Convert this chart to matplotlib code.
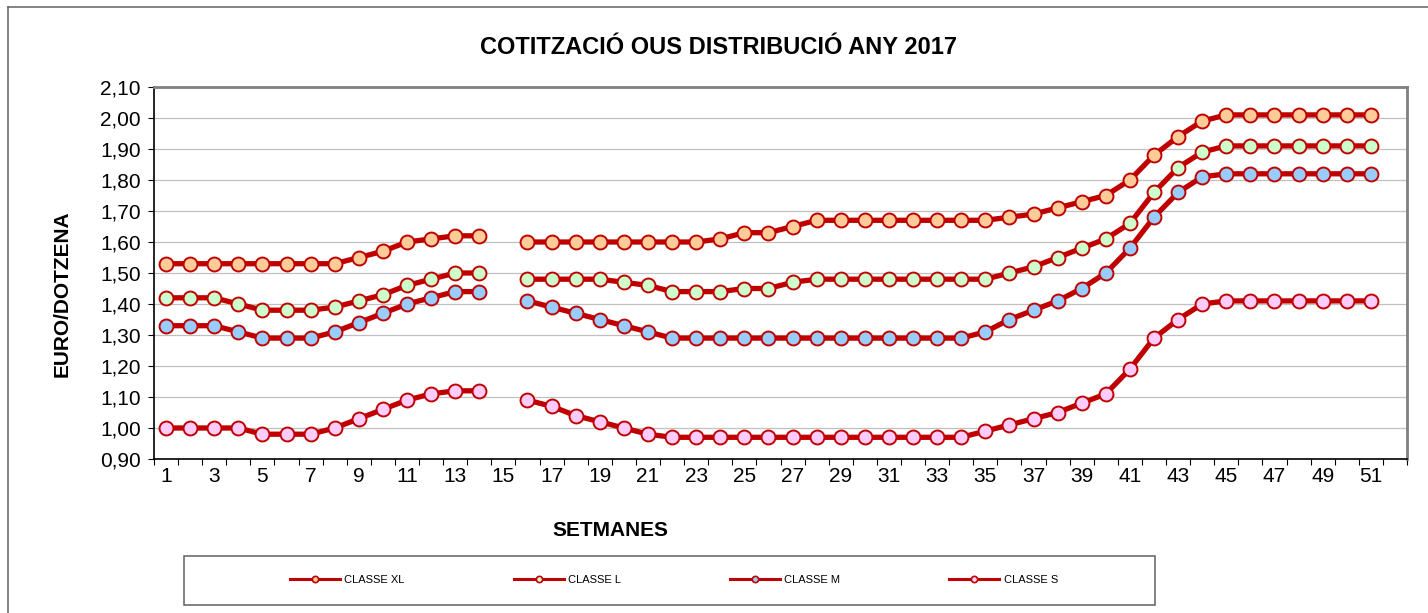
import numpy as np
import matplotlib
matplotlib.use("Agg")
import matplotlib.pyplot as plt
from matplotlib.lines import Line2D
from matplotlib.patches import Rectangle

plt.rcParams['font.family'] = ['Liberation Sans', 'DejaVu Sans']

# Weekly egg prices (euro/dozen), week 15 has no quotation
weeks = np.arange(1, 52)
nan = np.nan
classe_xl = [1.53, 1.53, 1.53, 1.53, 1.53, 1.53, 1.53, 1.53, 1.55, 1.57,
             1.60, 1.61, 1.62, 1.62, nan, 1.60, 1.60, 1.60, 1.60, 1.60,
             1.60, 1.60, 1.60, 1.61, 1.63, 1.63, 1.65, 1.67, 1.67, 1.67,
             1.67, 1.67, 1.67, 1.67, 1.67, 1.68, 1.69, 1.71, 1.73, 1.75,
             1.80, 1.88, 1.94, 1.99, 2.01, 2.01, 2.01, 2.01, 2.01, 2.01, 2.01]
classe_l = [1.42, 1.42, 1.42, 1.40, 1.38, 1.38, 1.38, 1.39, 1.41, 1.43,
            1.46, 1.48, 1.50, 1.50, nan, 1.48, 1.48, 1.48, 1.48, 1.47,
            1.46, 1.44, 1.44, 1.44, 1.45, 1.45, 1.47, 1.48, 1.48, 1.48,
            1.48, 1.48, 1.48, 1.48, 1.48, 1.50, 1.52, 1.55, 1.58, 1.61,
            1.66, 1.76, 1.84, 1.89, 1.91, 1.91, 1.91, 1.91, 1.91, 1.91, 1.91]
classe_m = [1.33, 1.33, 1.33, 1.31, 1.29, 1.29, 1.29, 1.31, 1.34, 1.37,
            1.40, 1.42, 1.44, 1.44, nan, 1.41, 1.39, 1.37, 1.35, 1.33,
            1.31, 1.29, 1.29, 1.29, 1.29, 1.29, 1.29, 1.29, 1.29, 1.29,
            1.29, 1.29, 1.29, 1.29, 1.31, 1.35, 1.38, 1.41, 1.45, 1.50,
            1.58, 1.68, 1.76, 1.81, 1.82, 1.82, 1.82, 1.82, 1.82, 1.82, 1.82]
classe_s = [1.00, 1.00, 1.00, 1.00, 0.98, 0.98, 0.98, 1.00, 1.03, 1.06,
            1.09, 1.11, 1.12, 1.12, nan, 1.09, 1.07, 1.04, 1.02, 1.00,
            0.98, 0.97, 0.97, 0.97, 0.97, 0.97, 0.97, 0.97, 0.97, 0.97,
            0.97, 0.97, 0.97, 0.97, 0.99, 1.01, 1.03, 1.05, 1.08, 1.11,
            1.19, 1.29, 1.35, 1.40, 1.41, 1.41, 1.41, 1.41, 1.41, 1.41, 1.41]

series_names = ['CLASSE XL', 'CLASSE L', 'CLASSE M', 'CLASSE S']
series_fill = ['#FFCC99', '#CCFFCC', '#99CCFF', '#FFCCFF']
line_red = '#C00000'

fig = plt.figure(figsize=(14.28, 6.13), dpi=100)
W, H = 1428, 613
ax = fig.add_axes([154 / W, 1 - 459 / H, (1407 - 154) / W, (459 - 87) / H])

for vals, name, fill in zip([classe_xl, classe_l, classe_m, classe_s], series_names, series_fill):
    ax.plot(weeks, vals, color=line_red, lw=3.8, marker='o', markersize=10,
            markerfacecolor=fill, markeredgecolor=line_red, markeredgewidth=1.4,
            label=name, zorder=3, clip_on=False)

ax.set_xlim(0.5, 52.5)
ax.set_ylim(0.9, 2.1)
ax.set_yticks(np.round(np.arange(0.9, 2.11, 0.1), 2))
ax.set_yticklabels([f"{v:.2f}".replace('.', ',') for v in np.arange(0.9, 2.11, 0.1)])
ax.yaxis.grid(True, color='#C0C0C0', lw=0.9, zorder=0)
ax.set_axisbelow(True)

ax.set_xticks(np.arange(0.5, 53, 1))
ax.set_xticklabels([])
odd = np.arange(1, 52, 2)
ax.set_xticks(odd, minor=True)
ax.set_xticklabels([str(w) for w in odd], minor=True)
ax.tick_params(axis='x', which='major', length=4.5, width=0.8, direction='out')
ax.tick_params(axis='x', which='minor', length=0, pad=6, labelsize=15)
ax.tick_params(axis='y', length=4.5, width=0.8, direction='out', pad=5, labelsize=15)

for side in ['left', 'bottom']:
    ax.spines[side].set_color('black')
    ax.spines[side].set_linewidth(1.2)
for side in ['top', 'right']:
    ax.spines[side].set_color('#808080')
    ax.spines[side].set_linewidth(2)

fig.text(719 / W, 1 - 48 / H, 'COTITZACIÓ OUS DISTRIBUCIÓ ANY 2017',
         ha='center', va='center', fontsize=17, fontweight='bold')
fig.text(62 / W, 1 - 294 / H, 'EURO/DOTZENA', rotation=90,
         ha='center', va='center', fontsize=15, fontweight='bold')
fig.text(610 / W, 1 - 530 / H, 'SETMANES',
         ha='center', va='center', fontsize=15, fontweight='bold')

# outer chart border (only left and top are visible)
fig.add_artist(Line2D([8 / W, 8 / W], [0, 1 - 7 / H], transform=fig.transFigure,
                      color='#606060', lw=1.1))
fig.add_artist(Line2D([8 / W, 1], [1 - 7 / H, 1 - 7 / H], transform=fig.transFigure,
                      color='#606060', lw=1.1))

# legend box
fig.add_artist(Rectangle((184 / W, 1 - 605 / H), (1155 - 184) / W, (605 - 556) / H,
                         transform=fig.transFigure, fill=False, edgecolor='#606060', lw=1.1))
handles = [Line2D([], [], color=line_red, lw=2.2, marker='o', markersize=4.5,
                  markerfacecolor=f, markeredgecolor=line_red, markeredgewidth=1.2)
           for f in series_fill]
fig.legend(handles, series_names, ncol=4, loc='center',
           bbox_to_anchor=(674 / W, 1 - 580 / H), frameon=False,
           fontsize=8, handlelength=4.5, handletextpad=0.4, columnspacing=9.8)

fig.savefig('out.png', dpi=100)
